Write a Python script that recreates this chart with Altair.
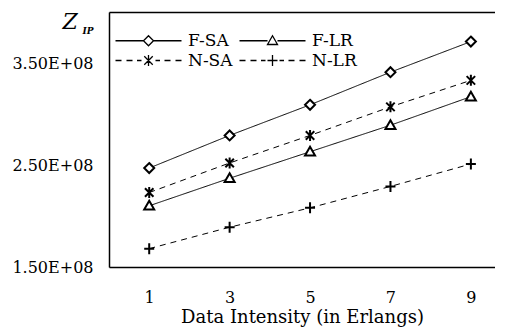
import altair as alt
import pandas as pd

intensity = [1, 3, 5, 7, 9]
series_names = ["F-SA", "F-LR", "N-SA", "N-LR"]
f_sa = [2.47e8, 2.79e8, 3.09e8, 3.41e8, 3.71e8]
f_lr = [2.10e8, 2.37e8, 2.63e8, 2.89e8, 3.17e8]
n_sa = [2.23e8, 2.52e8, 2.79e8, 3.07e8, 3.33e8]
n_lr = [1.68e8, 1.89e8, 2.08e8, 2.29e8, 2.51e8]
y_ticks = [1.5e8, 2.5e8, 3.5e8]
x_ticks = [1, 3, 5, 7, 9]

rows = []
for name, vals in zip(series_names, [f_sa, f_lr, n_sa, n_lr]):
    for x, v in zip(intensity, vals):
        rows.append({"x": x, "z": v, "series": name})
df = pd.DataFrame(rows)

FONT = "DejaVu Serif"

# marker shapes (unit paths)
diamond = "M0,-1L1,0L0,1L-1,0Z"
triangle = "M0,-1L1,0.75L-1,0.75Z"
asterisk = "M-0.85,-0.85L0.85,0.85M-0.85,0.85L0.85,-0.85M0,-1.1L0,1.1"
plus = "M-1,0L1,0M0,-1.1L0,1.1"
markers = [diamond, triangle, asterisk, plus]

# legend symbols: line segment + marker (symbol size 100 -> 5px per unit)
solid_l = "M-6.6,0L-1,0M1,0L6.6,0"
dash_l = ("M-6.6,0L-5.4,0M-4.4,0L-3.2,0M-2.3,0L-1.4,0"
          "M1.4,0L2.3,0M3.2,0L4.4,0M5.4,0L6.6,0")
leg_symbols = [
    solid_l + diamond,
    solid_l + triangle,
    dash_l + asterisk,
    dash_l + "M-1,0L1,0M0,-1.1L0,1.1",
]

xscale = alt.Scale(domain=[0, 9.6], nice=False, zero=False)
yscale = alt.Scale(domain=[1.5e8, 4.0e8], nice=False, zero=False)

y_axis = alt.Axis(orient="left", values=y_ticks, grid=False, ticks=False,
                  labelExpr="format(datum.value/1e8, '.2f') + 'E+08'",
                  labelPadding=16, labelFont=FONT, labelFontSize=16,
                  labelColor="black",
                  title="Z", titleAngle=0, titleX=-47, titleY=16,
                  titleAlign="left", titleBaseline="alphabetic",
                  titleFont=FONT, titleFontSize=22, titleFontStyle="italic",
                  titleFontWeight="normal", titleColor="black",
                  domainColor="black", domainWidth=1.5)

base = alt.Chart(df)

lines = base.mark_line(color="black", strokeWidth=1).encode(
    x=alt.X("x:Q", scale=xscale,
            axis=alt.Axis(orient="bottom", values=x_ticks,
                          title="Data Intensity (in Erlangs)",
                          grid=False, ticks=False, labelPadding=22,
                          labelFont=FONT, labelFontSize=16, labelColor="black",
                          titleFont=FONT, titleFontSize=18, titleFontWeight="normal",
                          titleColor="black", titlePadding=3,
                          domainColor="black", domainWidth=1.5)),
    y=alt.Y("z:Q", scale=yscale, axis=y_axis),
    strokeDash=alt.StrokeDash("series:N", sort=series_names,
                              scale=alt.Scale(domain=series_names,
                                              range=[[1, 0], [1, 0], [6, 5], [6, 5]]),
                              legend=None),
    detail="series:N",
)

points = base.mark_point(filled=False, color="black", fill="white", fillOpacity=1,
                         strokeWidth=2, size=100, opacity=1).encode(
    x=alt.X("x:Q", scale=xscale, axis=None),
    y=alt.Y("z:Q", scale=yscale, axis=y_axis),
    shape=alt.Shape("series:N",
                    scale=alt.Scale(domain=series_names, range=markers),
                    legend=None),
)

legend_layer = base.mark_point(opacity=0, size=100).encode(
    x=alt.X("x:Q", scale=xscale,
            axis=alt.Axis(orient="top", labels=False, ticks=False, grid=False,
                          domainColor="black", domainWidth=1.5,
                          title="IP", titleX=-27, titleY=21, titleAlign="left",
                          titleBaseline="alphabetic", titleFont=FONT,
                          titleFontSize=9, titleFontStyle="italic",
                          titleFontWeight="bold", titleColor="black")),
    y=alt.Y("z:Q", scale=yscale, axis=y_axis),
    shape=alt.Shape("series:N",
                    scale=alt.Scale(domain=series_names, range=leg_symbols),
                    legend=alt.Legend(title=None, orient="none", legendX=31,
                                      legendY=20, columns=2, direction="horizontal",
                                      symbolSize=100, symbolOpacity=1,
                                      symbolStrokeColor="black", symbolFillColor="white",
                                      symbolStrokeWidth=1.3, labelOffset=31,
                                      labelFont=FONT, labelFontSize=17,
                                      labelColor="black", columnPadding=3,
                                      rowPadding=2, labelLimit=200)),
)

chart = alt.layer(lines, points, legend_layer).resolve_scale(
    shape="independent"
).resolve_axis(x="independent").properties(
    width=386, height=255,
    autosize=alt.AutoSizeParams(type="none"),
    padding={"left": 101, "top": 4, "right": 0, "bottom": 62},
).configure_view(stroke=None).configure(background="white")

chart.save("out.html", embed_options={"renderer": "svg", "actions": False})
